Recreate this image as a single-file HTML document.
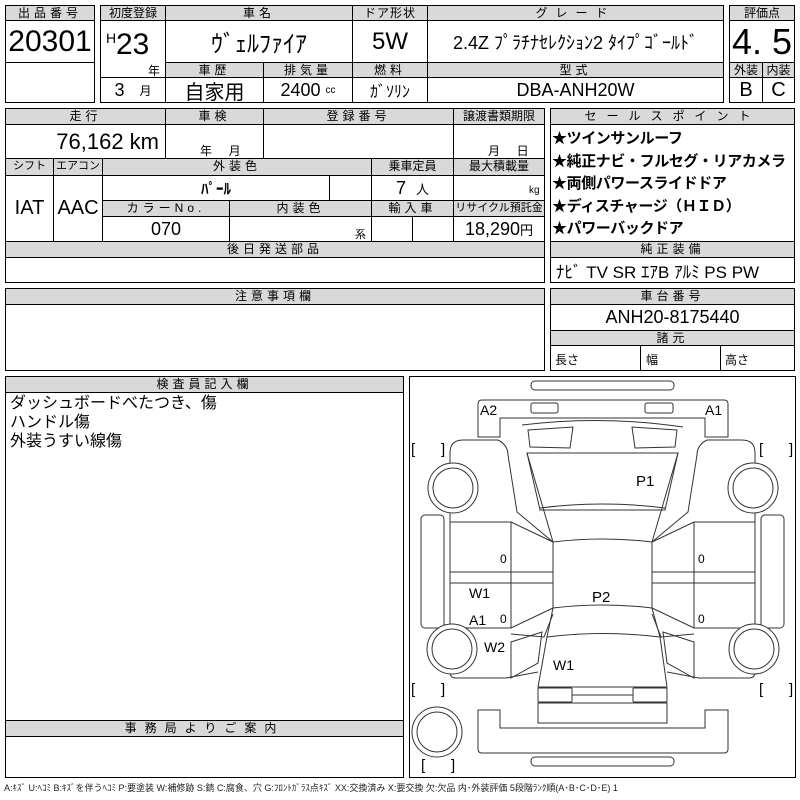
<!DOCTYPE html>
<html><head><meta charset="utf-8"><style>
body{margin:0;width:800px;height:800px;background:#fff;position:relative;overflow:hidden;font-family:"Liberation Sans","Noto Sans CJK JP",sans-serif;color:#000}
.b{position:absolute;border:1px solid #000;box-sizing:border-box}
.h{position:absolute;background:#d9d9d9;border:1px solid #000;box-sizing:border-box;font-size:12px;text-align:center;line-height:14px;letter-spacing:4px;white-space:nowrap;overflow:hidden}
.c{position:absolute;border:1px solid #000;box-sizing:border-box;display:flex;align-items:center;justify-content:center;white-space:nowrap;overflow:hidden}
.t{position:absolute;white-space:nowrap}
</style></head><body>
<div class="h" style="left:5px;top:5px;width:90px;height:16px">出品番号</div>
<div class="c" style="left:5px;top:20px;width:90px;height:43px;font-size:30px">20301</div>
<div class="c" style="left:5px;top:62px;width:90px;height:41px"></div>
<div class="h" style="left:100px;top:5px;width:66px;height:16px;letter-spacing:0">初度登録</div>
<div class="h" style="left:165px;top:5px;width:188px;height:16px">車名</div>
<div class="h" style="left:352px;top:5px;width:76px;height:16px;letter-spacing:1px">ドア形状</div>
<div class="h" style="left:427px;top:5px;width:297px;height:16px;letter-spacing:8px">グレード</div>
<div class="c" style="left:100px;top:20px;width:66px;height:58px"></div>
<div class="t" style="left:106px;top:30px;font-size:14px">H</div>
<div class="t" style="left:116px;top:28px;font-size:30px">23</div>
<div class="t" style="left:148px;top:62px;font-size:12px">年</div>
<div class="c" style="left:165px;top:20px;width:188px;height:43px;font-size:24px">ｳﾞｪﾙﾌｧｲｱ</div>
<div class="c" style="left:352px;top:20px;width:76px;height:43px;font-size:24px">5W</div>
<div class="c" style="left:427px;top:20px;width:297px;height:43px;font-size:18px">2.4Z ﾌﾟﾗﾁﾅｾﾚｸｼｮﾝ2 ﾀｲﾌﾟｺﾞｰﾙﾄﾞ</div>
<div class="h" style="left:165px;top:62px;width:99px;height:16px">車歴</div>
<div class="h" style="left:263px;top:62px;width:90px;height:16px">排気量</div>
<div class="h" style="left:352px;top:62px;width:76px;height:16px">燃料</div>
<div class="h" style="left:427px;top:62px;width:297px;height:16px">型式</div>
<div class="c" style="left:100px;top:77px;width:66px;height:26px;font-size:18px">3&nbsp;&nbsp;&nbsp;<span style="font-size:12px">月</span></div>
<div class="c" style="left:165px;top:77px;width:99px;height:26px;font-size:20px">自家用</div>
<div class="c" style="left:263px;top:77px;width:90px;height:26px;font-size:18px">2400&nbsp;<span style="font-size:10px">cc</span></div>
<div class="c" style="left:352px;top:77px;width:76px;height:26px;font-size:16px">ｶﾞｿﾘﾝ</div>
<div class="c" style="left:427px;top:77px;width:297px;height:26px;font-size:18px">DBA-ANH20W</div>
<div class="h" style="left:729px;top:5px;width:66px;height:16px;letter-spacing:0">評価点</div>
<div class="c" style="left:729px;top:20px;width:66px;height:43px;font-size:36px">4.&nbsp;5</div>
<div class="h" style="left:729px;top:62px;width:34px;height:16px;letter-spacing:0">外装</div>
<div class="h" style="left:762px;top:62px;width:33px;height:16px;letter-spacing:0">内装</div>
<div class="c" style="left:729px;top:77px;width:34px;height:26px;font-size:20px">B</div>
<div class="c" style="left:762px;top:77px;width:33px;height:26px;font-size:20px">C</div>
<div class="h" style="left:5px;top:108px;width:161px;height:17px">走行</div>
<div class="h" style="left:165px;top:108px;width:99px;height:17px">車検</div>
<div class="h" style="left:263px;top:108px;width:191px;height:17px">登録番号</div>
<div class="h" style="left:453px;top:108px;width:92px;height:17px;letter-spacing:0">譲渡書類期限</div>
<div class="c" style="left:5px;top:124px;width:161px;height:35px;font-size:22px;justify-content:flex-end;padding-right:6px">76,162 km</div>
<div class="c" style="left:165px;top:124px;width:99px;height:35px"></div>
<div class="t" style="left:200px;top:142px;font-size:12px">年&nbsp;&nbsp;&nbsp;&nbsp;&nbsp;月</div>
<div class="c" style="left:263px;top:124px;width:191px;height:35px"></div>
<div class="c" style="left:453px;top:124px;width:92px;height:35px"></div>
<div class="t" style="left:488px;top:142px;font-size:12px">月&nbsp;&nbsp;&nbsp;&nbsp;&nbsp;日</div>
<div class="h" style="left:5px;top:158px;width:49px;height:18px;letter-spacing:0;font-size:11px">シフト</div>
<div class="h" style="left:53px;top:158px;width:50px;height:18px;letter-spacing:0;font-size:11px">エアコン</div>
<div class="h" style="left:102px;top:158px;width:270px;height:18px">外装色</div>
<div class="h" style="left:371px;top:158px;width:83px;height:18px;letter-spacing:0">乗車定員</div>
<div class="h" style="left:453px;top:158px;width:92px;height:18px;letter-spacing:0">最大積載量</div>
<div class="c" style="left:5px;top:175px;width:49px;height:67px;font-size:20px">IAT</div>
<div class="c" style="left:53px;top:175px;width:50px;height:67px;font-size:20px">AAC</div>
<div class="c" style="left:102px;top:175px;width:228px;height:26px;font-size:15px;font-weight:bold">ﾊﾟｰﾙ</div>
<div class="c" style="left:329px;top:175px;width:43px;height:26px"></div>
<div class="c" style="left:371px;top:175px;width:83px;height:26px;font-size:18px">7&nbsp;&nbsp;<span style="font-size:13px">人</span></div>
<div class="c" style="left:453px;top:175px;width:92px;height:26px"></div>
<div class="t" style="left:529px;top:185px;font-size:10px">kg</div>
<div class="h" style="left:102px;top:200px;width:128px;height:17px">カラーNo.</div>
<div class="h" style="left:229px;top:200px;width:143px;height:17px">内装色</div>
<div class="h" style="left:371px;top:200px;width:83px;height:17px">輸入車</div>
<div class="h" style="left:453px;top:200px;width:92px;height:17px;letter-spacing:0;font-size:11px">リサイクル預託金</div>
<div class="c" style="left:102px;top:216px;width:128px;height:26px;font-size:18px">070</div>
<div class="c" style="left:229px;top:216px;width:143px;height:26px"></div>
<div class="t" style="left:355px;top:226px;font-size:11px">系</div>
<div class="c" style="left:371px;top:216px;width:42px;height:26px"></div>
<div class="c" style="left:412px;top:216px;width:42px;height:26px"></div>
<div class="c" style="left:453px;top:216px;width:92px;height:26px;font-size:18px">18,290<span style="font-size:13px">円</span></div>
<div class="h" style="left:5px;top:241px;width:540px;height:17px">後日発送部品</div>
<div class="c" style="left:5px;top:257px;width:540px;height:26px"></div>
<div class="h" style="left:550px;top:108px;width:245px;height:17px;letter-spacing:10px">セールスポイント</div>
<div class="b" style="left:550px;top:124px;width:245px;height:118px"></div>
<div class="t" style="left:552px;top:128px;font-size:15px;letter-spacing:-0.4px;font-weight:bold;line-height:22.5px">★ツインサンルーフ<br>★純正ナビ・フルセグ・リアカメラ<br>★両側パワースライドドア<br>★ディスチャージ（ＨＩＤ）<br>★パワーバックドア</div>
<div class="h" style="left:550px;top:241px;width:245px;height:17px">純正装備</div>
<div class="c" style="left:550px;top:257px;width:245px;height:26px;font-size:17px;justify-content:flex-start;padding-left:5px">ﾅﾋﾞ TV SR ｴｱB ｱﾙﾐ PS PW</div>
<div class="h" style="left:5px;top:288px;width:540px;height:17px">注意事項欄</div>
<div class="b" style="left:5px;top:304px;width:540px;height:67px"></div>
<div class="h" style="left:550px;top:288px;width:245px;height:17px">車台番号</div>
<div class="c" style="left:550px;top:304px;width:245px;height:27px;font-size:18px">ANH20-8175440</div>
<div class="h" style="left:550px;top:330px;width:245px;height:16px">諸元</div>
<div class="b" style="left:550px;top:345px;width:91px;height:26px"></div>
<div class="b" style="left:640px;top:345px;width:81px;height:26px"></div>
<div class="b" style="left:720px;top:345px;width:75px;height:26px"></div>
<div class="t" style="left:555px;top:351px;font-size:12px">長さ</div>
<div class="t" style="left:646px;top:351px;font-size:12px">幅</div>
<div class="t" style="left:725px;top:351px;font-size:12px">高さ</div>
<div class="h" style="left:5px;top:376px;width:399px;height:17px">検査員記入欄</div>
<div class="b" style="left:5px;top:392px;width:399px;height:329px"></div>
<div class="t" style="left:10px;top:394px;font-size:16px;line-height:19px">ダッシュボードべたつき、傷<br>ハンドル傷<br>外装うすい線傷</div>
<div class="h" style="left:5px;top:720px;width:399px;height:17px;letter-spacing:8px">事務局よりご案内</div>
<div class="b" style="left:5px;top:736px;width:399px;height:42px"></div>
<div class="b" style="left:409px;top:376px;width:387px;height:402px"></div>
<svg style="position:absolute;left:0;top:0" width="800" height="800" fill="none" stroke="#333" stroke-width="1">
<rect x="531" y="381" width="143" height="9" rx="4"/>
<rect x="531" y="757" width="143" height="9" rx="4"/>
<path d="M478,437 V404 Q478,400 482,400 H724 Q728,400 728,404 V437 H705 V418 H500 V437 Z"/>
<path d="M478,710 V749 Q478,753 482,753 H724 Q728,753 728,749 V710 H705 V728 H500 V710 Z"/>
<rect x="531" y="403" width="27" height="10" rx="2"/>
<rect x="645" y="403" width="28" height="10" rx="2"/>
<path d="M522,425 Q602,415 683,427"/>
<path d="M528,430 L573,427 L570,448 L530,447 Z"/>
<path d="M677,430 L632,427 L635,448 L675,447 Z"/>
<path d="M527,453 L678,453 L665,510 L540,510 Z"/>
<path d="M540,508 Q602,500 665,508"/>
<path d="M553,542 Q602,536 652,542 L652,608 Q602,602 553,608 Z"/>
<path d="M547,637 Q602,630 660,637"/>
<path d="M553,608 L547,637 L538,687 L667,687 L660,637 L652,608"/>
<rect x="538" y="688" width="34" height="14" rx="1"/>
<rect x="633" y="688" width="34" height="14" rx="1"/>
<path d="M572,695 H633"/>
<rect x="538" y="703" width="129" height="20"/>
<path d="M450,522 V453 Q450,440 463,440 H498 Q508,445 508,455 L517,512 L553,542"/>
<path d="M527,453 L553,542"/>
<path d="M450,522 H511 L553,542 M450,572 H553 M450,583 H553 M450,628 H511 L553,608 M511,522 V628 M450,522 V628"/>
<path d="M450,628 V672 Q450,678 456,678 H506 L538,672 M511,642 L542,632 L538,663 L511,678 Z M553,614 L544,637 L511,634"/>
<rect x="421" y="515" width="23" height="113" rx="4"/>
<g transform="translate(1205,0) scale(-1,1)">
<path d="M450,522 V453 Q450,440 463,440 H498 Q508,445 508,455 L517,512 L553,542"/>
<path d="M527,453 L553,542"/>
<path d="M450,522 H511 L553,542 M450,572 H553 M450,583 H553 M450,628 H511 L553,608 M511,522 V628 M450,522 V628"/>
<path d="M450,628 V672 Q450,678 456,678 H506 L538,672 M511,642 L542,632 L538,663 L511,678 Z M553,614 L544,637 L511,634"/>
<rect x="421" y="515" width="23" height="113" rx="4"/>
</g>
<g fill="#fff">
<circle cx="453" cy="488" r="25"/><circle cx="453" cy="488" r="20"/>
<circle cx="753" cy="488" r="25"/><circle cx="753" cy="488" r="20"/>
<circle cx="452" cy="649" r="25"/><circle cx="452" cy="649" r="20"/>
<circle cx="754" cy="649" r="25"/><circle cx="754" cy="649" r="20"/>
<circle cx="437" cy="732" r="25"/><circle cx="437" cy="732" r="20"/>
</g>
<g fill="#000" stroke="none" font-family="Liberation Sans,sans-serif" font-size="14">
<text x="480" y="415">A2</text><text x="705" y="415">A1</text>
<text x="636" y="486" font-size="15">P1</text><text x="592" y="602" font-size="15">P2</text>
<text x="469" y="598">W1</text><text x="469" y="625">A1</text>
<text x="484" y="652">W2</text><text x="553" y="670">W1</text>
<text x="500" y="563" font-size="12">0</text><text x="500" y="623" font-size="12">0</text>
<text x="698" y="563" font-size="12">0</text><text x="698" y="623" font-size="12">0</text>
<g font-size="15"><text x="411" y="454">[</text><text x="441" y="454">]</text>
<text x="759" y="454">[</text><text x="789" y="454">]</text>
<text x="411" y="694">[</text><text x="441" y="694">]</text>
<text x="759" y="694">[</text><text x="789" y="694">]</text>
<text x="421" y="770">[</text><text x="451" y="770">]</text></g>
</g>
</svg>
<div class="t" style="left:4px;top:781px;font-size:9px;color:#222">A:ｷｽﾞ U:ﾍｺﾐ B:ｷｽﾞを伴うﾍｺﾐ P:要塗装 W:補修跡 S:錆 C:腐食、穴 G:ﾌﾛﾝﾄｶﾞﾗｽ点ｷｽﾞ XX:交換済み X:要交換 欠:欠品 内･外装評価 5段階ﾗﾝｸ順(A･B･C･D･E) 1</div>
</body></html>
